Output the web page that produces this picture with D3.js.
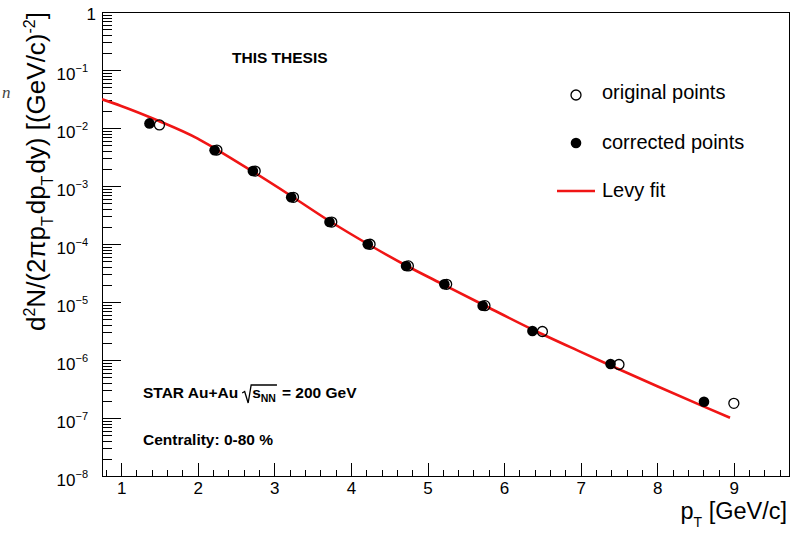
<!DOCTYPE html>
<html>
<head>
<meta charset="utf-8">
<script src="https://cdn.jsdelivr.net/npm/d3@7"></script>
<style>
  html, body { margin: 0; padding: 0; background: #fff; }
  svg { display: block; font-family: "Liberation Sans", Arial, Helvetica, sans-serif; }
</style>
</head>
<body>
<svg id="chart" width="792" height="533"></svg>
<script>
// Spectrum points: bin centres (original) and bin-shift corrected positions
const originalPt    = [1.5, 2.25, 2.75, 3.25, 3.75, 4.25, 4.75, 5.25, 5.75, 6.5, 7.5, 9.0];
const originalYield = [1.13e-2, 4.17e-3, 1.81e-3, 6.38e-4, 2.39e-4, 9.9e-5, 4.18e-5, 2.02e-5, 8.64e-6, 3.10e-6, 8.36e-7, 1.79e-7];
const correctedPt    = [1.37, 2.22, 2.72, 3.22, 3.72, 4.22, 4.72, 5.22, 5.72, 6.37, 7.39, 8.61];
const correctedYield = [1.20e-2, 4.13e-3, 1.81e-3, 6.38e-4, 2.39e-4, 9.9e-5, 4.18e-5, 2.02e-5, 8.64e-6, 3.16e-6, 8.53e-7, 1.91e-7];

// Levy fit curve
const levyPt    = [0.75, 1.0, 1.47, 2.0, 2.22, 2.72, 3.22, 3.72, 4.22, 4.72, 5.22, 5.72, 6.37, 7.0, 7.39, 8.0, 8.61, 8.95];
const levyYield = [3.13e-2, 2.40e-2, 1.36e-2, 6.56e-3, 4.47e-3, 1.77e-3, 6.73e-4, 2.49e-4, 1.0e-4, 4.26e-5, 1.96e-5, 9.06e-6, 3.36e-6, 1.38e-6, 8.04e-7, 3.52e-7, 1.57e-7, 1.01e-7];

// Axis ticks
const xTickValues = [1, 2, 3, 4, 5, 6, 7, 8, 9];
const yTickExponents = [0, -1, -2, -3, -4, -5, -6, -7, -8];

const svg = d3.select("#chart");
const L = 102, R = 789, T = 12, B = 476;
const RED = "#f01515";

const x = d3.scaleLinear().domain([0.75, 9.72]).range([L, R]);
const y = d3.scaleLog().domain([1e-8, 1]).range([B, T]);

// frame
svg.append("rect")
  .attr("x", L).attr("y", T).attr("width", R - L).attr("height", B - T)
  .attr("fill", "none").attr("stroke", "#000").attr("stroke-width", 1)
  .attr("shape-rendering", "crispEdges");

// x axis: major and minor ticks pointing into the frame
const xMinor = d3.range(0.8, 9.7, 0.2).map(v => +v.toFixed(1)).filter(v => Math.abs(v - Math.round(v)) > 1e-6);
const xAxisMinor = d3.axisBottom(x).tickValues(xMinor).tickSize(-6).tickFormat("");
const xAxisMajor = d3.axisBottom(x).tickValues(xTickValues).tickSize(-13).tickPadding(6).tickFormat(d3.format("d"));
const gxm = svg.append("g").attr("transform", `translate(0,${B})`).call(xAxisMinor);
const gx = svg.append("g").attr("transform", `translate(0,${B})`).call(xAxisMajor);
[gxm, gx].forEach(g => {
  g.select(".domain").remove();
  g.selectAll("line").attr("stroke", "#000").attr("shape-rendering", "crispEdges");
});
gx.selectAll("text")
  .attr("font-size", 17).attr("fill", "#000")
  .attr("y", 6).attr("dy", "0.71em")
  .style("font-family", "Liberation Sans, Arial, sans-serif");

// y axis: decades and 2..9 minor ticks
const yMajor = yTickExponents.map(e => Math.pow(10, e));
const yMinor = [];
yTickExponents.slice(1).forEach(e => { for (let k = 2; k <= 9; k++) yMinor.push(k * Math.pow(10, e)); });
const gym = svg.append("g").attr("transform", `translate(${L},0)`)
  .call(d3.axisLeft(y).tickValues(yMinor).tickSize(-10).tickFormat(""));
const gy = svg.append("g").attr("transform", `translate(${L},0)`)
  .call(d3.axisLeft(y).tickValues(yMajor).tickSize(-19).tickFormat(""));
[gym, gy].forEach(g => {
  g.select(".domain").remove();
  g.selectAll("line").attr("stroke", "#000").attr("shape-rendering", "crispEdges");
});

// y tick labels as 10^k
const yLab = svg.append("g").attr("font-size", 17).attr("fill", "#000");
yTickExponents.forEach(e => {
  const yy = y(Math.pow(10, e));
  if (e === 0) {
    yLab.append("text").attr("x", 96).attr("y", yy + 8).attr("text-anchor", "end").text("1");
  } else {
    const t = yLab.append("text").attr("x", 88).attr("y", yy + 10).attr("text-anchor", "end");
    t.append("tspan").text("10");
    t.append("tspan").attr("font-size", 11).attr("dy", -8).text("\u2212" + (-e));
  }
});

// axis titles
const xt = svg.append("text").attr("x", 787).attr("y", 519).attr("text-anchor", "end")
  .attr("font-size", 23.5).attr("fill", "#000");
xt.append("tspan").text("p");
xt.append("tspan").attr("font-size", 14).attr("dy", 8).text("T");
xt.append("tspan").attr("dy", -8).text(" [GeV/c]");

const yt = svg.append("text").attr("transform", "translate(45,12) rotate(-90)")
  .attr("text-anchor", "end").attr("font-size", 26).attr("fill", "#000");
yt.append("tspan").text("d");
yt.append("tspan").attr("font-size", 16).attr("dy", -10).text("2");
yt.append("tspan").attr("dy", 10).text("N/(2\u03C0p");
yt.append("tspan").attr("font-size", 16).attr("dy", 8).text("T");
yt.append("tspan").attr("dy", -8).attr("dx", 2).text("dp");
yt.append("tspan").attr("font-size", 16).attr("dy", 8).text("T");
yt.append("tspan").attr("dy", -8).attr("dx", 2).text("dy) [(GeV/c)");
yt.append("tspan").attr("font-size", 16).attr("dy", -10).text("-2");
yt.append("tspan").attr("dy", 10).text("]");

// stray italic glyph at the left margin
svg.append("text").attr("x", 2).attr("y", 98).attr("font-size", 17)
  .attr("font-style", "italic").attr("fill", "#444")
  .style("font-family", "Liberation Serif, serif").text("n");

// clip region for plotted marks
svg.append("clipPath").attr("id", "plotClip")
  .append("rect").attr("x", L).attr("y", T).attr("width", R - L).attr("height", B - T);
const plot = svg.append("g").attr("clip-path", "url(#plotClip)");

// Levy fit
const levyData = levyPt.map((p, i) => [p, levyYield[i]]);
plot.append("path")
  .datum(levyData)
  .attr("fill", "none").attr("stroke", RED).attr("stroke-width", 2.6)
  .attr("d", d3.line().x(d => x(d[0])).y(d => y(d[1])).curve(d3.curveMonotoneX));

// corrected (filled) and original (open) points
const corrected = correctedPt.map((p, i) => [p, correctedYield[i]]);
const original = originalPt.map((p, i) => [p, originalYield[i]]);
plot.selectAll("circle.corr").data(corrected).join("circle").attr("class", "corr")
  .attr("cx", d => x(d[0])).attr("cy", d => y(d[1])).attr("r", 5.3).attr("fill", "#000");
plot.selectAll("circle.orig").data(original).join("circle").attr("class", "orig")
  .attr("cx", d => x(d[0])).attr("cy", d => y(d[1])).attr("r", 5).attr("fill", "none")
  .attr("stroke", "#000").attr("stroke-width", 1.3);

// legend
const lg = svg.append("g").attr("font-size", 20).attr("fill", "#000");
lg.append("circle").attr("cx", 576).attr("cy", 95).attr("r", 5).attr("fill", "none").attr("stroke", "#000").attr("stroke-width", 1.3);
lg.append("text").attr("x", 602).attr("y", 99).text("original points");
lg.append("circle").attr("cx", 576).attr("cy", 143).attr("r", 5.3).attr("fill", "#000");
lg.append("text").attr("x", 602).attr("y", 149).text("corrected points");
lg.append("line").attr("x1", 557).attr("x2", 595).attr("y1", 191).attr("y2", 191)
  .attr("stroke", RED).attr("stroke-width", 2.6);
lg.append("text").attr("x", 602).attr("y", 197).text("Levy fit");

// labels inside the frame
svg.append("text").attr("x", 232).attr("y", 63).attr("font-size", 15.5).attr("font-weight", "bold")
  .attr("fill", "#000").text("THIS THESIS");

const ann = svg.append("g").attr("font-weight", "bold").attr("font-size", 15.5).attr("fill", "#000");
const t1 = ann.append("text").attr("x", 143).attr("y", 398).text("STAR Au+Au");
let cx = 143 + t1.node().getComputedTextLength() + 4;
const sNode = ann.append("text").attr("x", cx + 10).attr("y", 398).text("s");
const sw = sNode.node().getComputedTextLength();
const nn = ann.append("text").attr("x", cx + 10 + sw).attr("y", 402).attr("font-size", 10.5).text("NN");
const nnw = nn.node().getComputedTextLength();
const rEnd = cx + 10 + sw + nnw + 1;
ann.append("path")
  .attr("d", `M${cx},393 L${cx + 2.5},391.5 L${cx + 6},403 L${cx + 9},385 L${rEnd},385`)
  .attr("fill", "none").attr("stroke", "#000").attr("stroke-width", 1.3);
ann.append("text").attr("x", rEnd + 5).attr("y", 398).text("= 200 GeV");
ann.append("text").attr("x", 143).attr("y", 445).text("Centrality: 0-80 %");
</script>
</body>
</html>
